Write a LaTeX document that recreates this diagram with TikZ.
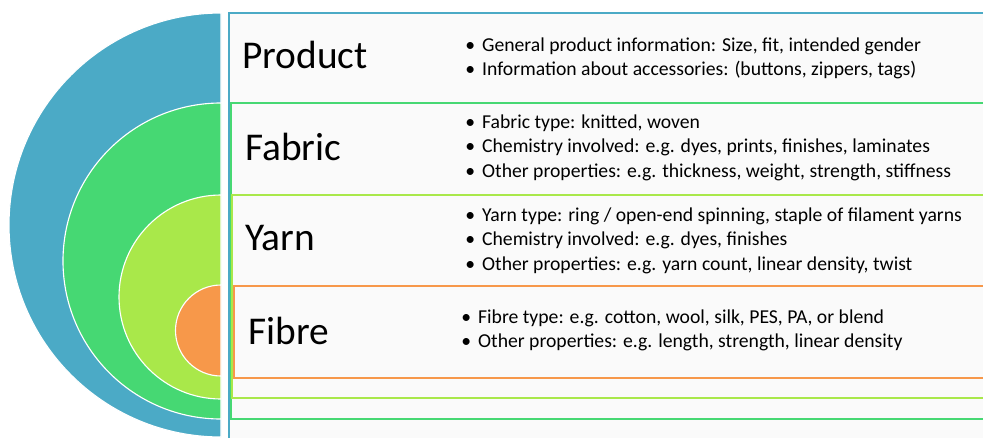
\documentclass[tikz,border=0pt]{standalone}
\usepackage{fontspec}
\setmainfont{Carlito}
\definecolor{pcol}{HTML}{4BAAC6}
\definecolor{fcol}{HTML}{46D873}
\definecolor{ycol}{HTML}{A9E84A}
\definecolor{bcol}{HTML}{F7984A}
\newcommand{\bul}{\textbullet\hspace{5pt}}

\begin{document}
\begin{tikzpicture}[x=0.025cm, y=0.025cm,
  layer/.style={draw=white, line width=0.8pt},
  band/.style={line width=1.2pt, fill=black!2},
  head/.style={anchor=base west, inner sep=0pt, font=\fontsize{28}{30}\selectfont},
  item/.style={anchor=base west, inner sep=0pt, font=\fontsize{14}{17}\selectfont}]

\useasboundingbox (0,0) rectangle (983,437);
\clip (0,0) rectangle (983,437);

% nested half discs
\fill[pcol, layer] (221,424) arc (90:270:212) -- cycle;
\fill[fcol, layer] (221,334) arc (90:270:158) -- cycle;
\fill[ycol, layer] (221,242) arc (90:270:102) -- cycle;
\fill[bcol, layer] (221,152) arc (90:270:45.5) -- cycle;

% bands
\draw[band, draw=pcol] (229,-5) rectangle (990,424);
\draw[band, draw=fcol] (231,18) rectangle (990,334);
\draw[band, draw=ycol] (232,39) rectangle (990,242);
\draw[band, draw=bcol] (234,59) rectangle (990,151);

% headings
\node[head] (product) at (242,369) {Product};
\node[head] (fabric) at (245,277) {Fabric};
\node[head] (yarn) at (245,187) {Yarn};
\node[head] (fibre) at (248,93) {Fibre};

% bullet lists
\foreach \t [count=\i] in {{General product information: Size, fit, intended gender},
    {Information about accessories: (buttons, zippers, tags)}}
  \node[item] (prod\i) at (465,{386-(\i-1)*24.5}) {\bul\t};
\foreach \t [count=\i] in {{Fabric type: knitted, woven},
    {Chemistry involved: e.g. dyes, prints, finishes, laminates},
    {Other properties: e.g. thickness, weight, strength, stiffness}}
  \node[item] (fab\i) at (465,{309-(\i-1)*24.5}) {\bul\t};
\foreach \t [count=\i] in {{Yarn type: ring / open-end spinning, staple of filament yarns},
    {Chemistry involved: e.g. dyes, finishes},
    {Other properties: e.g. yarn count, linear density, twist}}
  \node[item] (yarn\i) at (465,{216-(\i-1)*24.5}) {\bul\t};
\foreach \t [count=\i] in {{Fibre type: e.g. cotton, wool, silk, PES, PA, or blend},
    {Other properties: e.g. length, strength, linear density}}
  \node[item] (fib\i) at (461,{114-(\i-1)*24.5}) {\bul\t};

\end{tikzpicture}
\end{document}
